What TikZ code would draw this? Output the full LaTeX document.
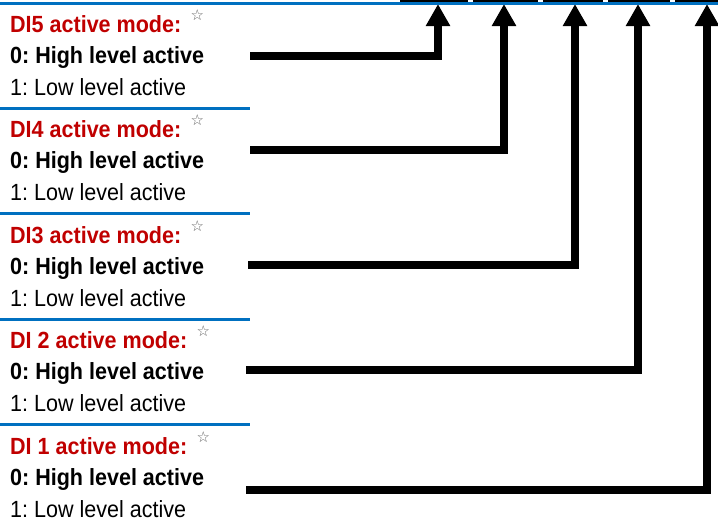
\documentclass[tikz,border=0pt]{standalone}
\usepackage{fontspec}
\setmainfont{Liberation Sans}[FakeStretch=0.92]
\newfontfamily\symfont{DejaVu Sans}
\usetikzlibrary{arrows.meta,positioning}
\definecolor{modered}{HTML}{C00000}
\definecolor{rulblue}{HTML}{0070C0}
\frenchspacing

\begin{document}
\begin{tikzpicture}[
        x=1pt, y=-1pt,
        font=\fontsize{23.4}{26}\selectfont,
        every node/.style={inner sep=0pt}
    ]
    \tikzset{
        modetitle/.style = {anchor=base west, text=modered, font=\fontsize{23.4}{26}\selectfont\bfseries},
        highline/.style = {anchor=base west, font=\fontsize{23.4}{26}\selectfont\bfseries},
        lowline/.style = {anchor=base west},
        starmark/.style = {text=black!60, font=\symfont\fontsize{15}{15}\selectfont},
        rule/.style = {draw=rulblue, line width=3pt},
        wire/.style = {draw=black, line width=7.5pt, -{Triangle[width=23pt,length=22pt]}},
    }
    \useasboundingbox (0,0) rectangle (718,522);
    % DI5
    \node[modetitle] (m5) at (10,32) {DI5 active mode:};
    \node[starmark, right=9pt of m5.north east] (st5) {☆};
    \node[highline] (h5) at (10,63) {0: High level active};
    \node[lowline] (l5) at (10,95) {1: Low level active};
    % DI4
    \node[modetitle] (m4) at (10,137.5) {DI4 active mode:};
    \node[starmark, right=9pt of m4.north east] (st4) {☆};
    \node[highline] (h4) at (10,168.5) {0: High level active};
    \node[lowline] (l4) at (10,200.5) {1: Low level active};
    % DI3
    \node[modetitle] (m3) at (10,243) {DI3 active mode:};
    \node[starmark, right=9pt of m3.north east] (st3) {☆};
    \node[highline] (h3) at (10,274) {0: High level active};
    \node[lowline] (l3) at (10,306) {1: Low level active};
    % DI2
    \node[modetitle] (m2) at (10,348.5) {DI 2 active mode:};
    \node[starmark, right=9pt of m2.north east] (st2) {☆};
    \node[highline] (h2) at (10,379.5) {0: High level active};
    \node[lowline] (l2) at (10,411.5) {1: Low level active};
    % DI1
    \node[modetitle] (m1) at (10,454) {DI 1 active mode:};
    \node[starmark, right=9pt of m1.north east] (st1) {☆};
    \node[highline] (h1) at (10,485) {0: High level active};
    \node[lowline] (l1) at (10,517) {1: Low level active};

    % bits of the boxes above
    \fill (400,-2) rectangle (468,1.8);
    \fill (473,-2) rectangle (538,1.8);
    \fill (543,-2) rectangle (603,1.8);
    \fill (608,-2) rectangle (670,1.8);
    \fill (675,-2) rectangle (720,1.8);

    \coordinate (from5) at (250,56);   \coordinate (to5) at (438,4);
    \coordinate (from4) at (250,150);  \coordinate (to4) at (504,4);
    \coordinate (from3) at (248,265);  \coordinate (to3) at (575,4);
    \coordinate (from2) at (246,370);  \coordinate (to2) at (638,4);
    \coordinate (from1) at (246,490);  \coordinate (to1) at (707,4);
    \draw[wire] (from5) -| (to5);
    \draw[wire] (from4) -| (to4);
    \draw[wire] (from3) -| (to3);
    \draw[wire] (from2) -| (to2);
    \draw[wire] (from1) -| (to1);

    \draw[rule] (0,3.5) -- (718,3.5);
    \draw[rule] (0,108) -- (250,108);
    \draw[rule] (0,213.5) -- (250,213.5);
    \draw[rule] (0,319) -- (250,319);
    \draw[rule] (0,424.5) -- (250,424.5);
\end{tikzpicture}
\end{document}
